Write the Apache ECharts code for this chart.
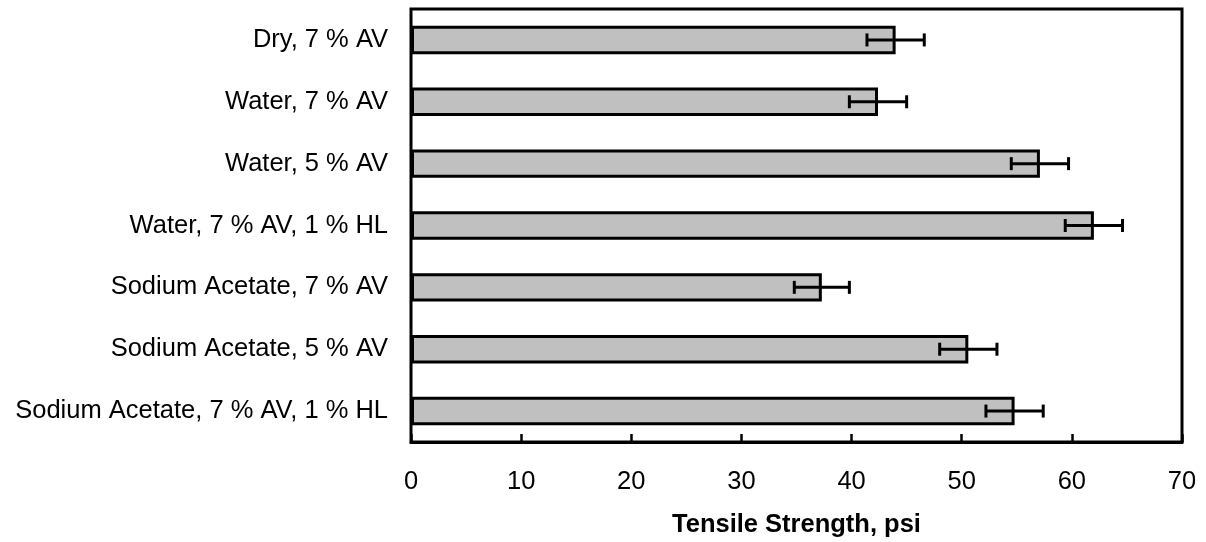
<!DOCTYPE html>
<html>
<head>
<meta charset="utf-8">
<script src="https://cdn.jsdelivr.net/npm/echarts@6/dist/echarts.min.js"></script>
<style>
html,body{margin:0;padding:0;background:#fff;}
#chart{width:1206px;height:542px;}
</style>
</head>
<body>
<div id="chart"></div>
<script>
const categories = [
  'Dry, 7 % AV',
  'Water, 7 % AV',
  'Water, 5 % AV',
  'Water, 7 % AV, 1 % HL',
  'Sodium Acetate, 7 % AV',
  'Sodium Acetate, 5 % AV',
  'Sodium Acetate, 7 % AV, 1 % HL'
];
const strength = [44.0, 42.4, 57.1, 62.0, 37.3, 50.6, 54.8];
const errors = [2.6, 2.6, 2.6, 2.6, 2.5, 2.6, 2.6];
const xTicks = { min: 0, max: 70, interval: 10 };
const xTitle = 'Tensile Strength, psi';

const errData = strength.map((v, i) => [i, v - errors[i], v + errors[i]]);
const font = 'Liberation Sans, Arial, sans-serif';

const chart = echarts.init(document.getElementById('chart'), null, { renderer: 'canvas' });
chart.setOption({
  animation: false,
  backgroundColor: '#ffffff',
  grid: {
    left: 411, right: 24, top: 9, bottom: 100,
    outerBoundsMode: 'none',
    containLabel: false,
    show: true, borderColor: '#000', borderWidth: 3, backgroundColor: 'transparent'
  },
  xAxis: {
    type: 'value',
    min: xTicks.min, max: xTicks.max, interval: xTicks.interval,
    name: xTitle,
    nameLocation: 'middle',
    nameGap: 70,
    nameTextStyle: { fontFamily: font, fontSize: 25.5, fontWeight: 'bold', color: '#000' },
    axisLine: { show: true, lineStyle: { color: '#000', width: 3 } },
    axisTick: { show: true, inside: true, length: 8, lineStyle: { color: '#000', width: 2.5 } },
    axisLabel: { fontFamily: font, fontSize: 25.5, color: '#000', margin: 27 },
    splitLine: { show: false }
  },
  yAxis: {
    type: 'category',
    data: categories,
    inverse: true,
    axisLine: { show: false },
    axisTick: { show: false },
    axisLabel: { fontFamily: font, fontSize: 25.5, color: '#000', margin: 23 },
    splitLine: { show: false }
  },
  series: [
    {
      type: 'bar',
      data: strength,
      barWidth: '46%',
      itemStyle: { color: '#c0c0c0', borderColor: '#000', borderWidth: 3 },
      z: 2
    },
    {
      type: 'custom',
      data: errData,
      z: 5,
      encode: { x: [1, 2], y: 0 },
      renderItem: function (params, api) {
        const idx = api.value(0);
        const lo = api.coord([api.value(1), idx]);
        const hi = api.coord([api.value(2), idx]);
        const h = 6.5;
        const style = { stroke: '#000', lineWidth: 3, fill: null };
        return {
          type: 'group',
          children: [
            { type: 'line', shape: { x1: lo[0], y1: lo[1], x2: hi[0], y2: hi[1] }, style: style },
            { type: 'line', shape: { x1: lo[0], y1: lo[1] - h, x2: lo[0], y2: lo[1] + h }, style: style },
            { type: 'line', shape: { x1: hi[0], y1: hi[1] - h, x2: hi[0], y2: hi[1] + h }, style: style }
          ]
        };
      }
    }
  ]
});
</script>
</body>
</html>
